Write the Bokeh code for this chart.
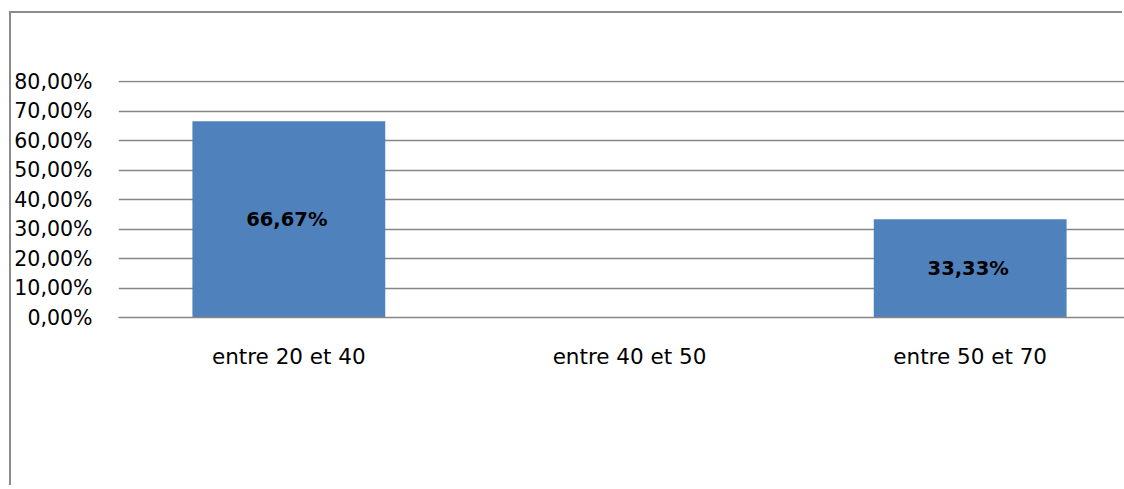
from bokeh.plotting import figure
from bokeh.models import Range1d, FixedTicker, ColumnDataSource
from bokeh.core.properties import value
from bokeh.embed import file_html
from bokeh.resources import INLINE

categories = ["entre 20 et 40", "entre 40 et 50", "entre 50 et 70"]
percentages = [66.67, 0.0, 33.33]
bar_labels = ["66,67%", "", "33,33%"]
y_ticks = [0, 10, 20, 30, 40, 50, 60, 70, 80]
y_tick_labels = ["0,00%", "10,00%", "20,00%", "30,00%", "40,00%",
                 "50,00%", "60,00%", "70,00%", "80,00%"]

positions = [i + 0.5 for i in range(len(categories))]
src = ColumnDataSource(dict(x=positions, top=percentages,
                            mid=[v / 2 for v in percentages], label=bar_labels))

FONT = "DejaVu Sans"

p = figure(width=1113, height=474, output_backend="svg", toolbar_location=None,
           x_range=Range1d(0, 2.953), y_range=Range1d(0, 80.5),
           min_border_left=106, min_border_right=0, min_border_top=67,
           min_border_bottom=170)
p.styles = {"margin-left": "11px", "margin-top": "13px",
            "box-shadow": "-2px -2px 0px 0px #8c8c8c"}
p.outline_line_color = None
p.background_fill_color = "white"
p.border_fill_color = "white"

p.vbar(x="x", top="top", bottom=0, width=0.566, source=src,
       fill_color="#4F81BD", line_color=None)
p.text(x="x", y="mid", text="label", source=src, text_align="center",
       text_baseline="middle", text_font=value(FONT), text_font_style="bold",
       text_font_size="19.5px", text_color="black", x_offset=-2)

p.xgrid.grid_line_color = None
p.ygrid.ticker = FixedTicker(ticks=y_ticks)
p.ygrid.grid_line_color = "#868686"
p.ygrid.grid_line_width = 1.5

p.yaxis.ticker = FixedTicker(ticks=y_ticks)
p.yaxis.major_label_overrides = {t: l for t, l in zip(y_ticks, y_tick_labels)}
p.yaxis.axis_line_color = None
p.yaxis.major_tick_line_color = None
p.yaxis.minor_tick_line_color = None
p.yaxis.major_tick_out = 0
p.yaxis.major_tick_in = 0
p.yaxis.major_label_standoff = 26
p.yaxis.major_label_text_font = FONT
p.yaxis.major_label_text_font_size = "20.5px"
p.yaxis.major_label_text_color = "black"

p.xaxis.ticker = FixedTicker(ticks=positions)
p.xaxis.major_label_overrides = {x: c for x, c in zip(positions, categories)}
p.xaxis.axis_line_color = "#868686"
p.xaxis.axis_line_width = 1.5
p.xaxis.major_tick_line_color = None
p.xaxis.minor_tick_line_color = None
p.xaxis.major_tick_out = 0
p.xaxis.major_tick_in = 0
p.xaxis.major_label_standoff = 26
p.xaxis.major_label_text_font = FONT
p.xaxis.major_label_text_font_size = "21.5px"
p.xaxis.major_label_text_color = "black"

open("out.html", "w").write(file_html(p, INLINE))
